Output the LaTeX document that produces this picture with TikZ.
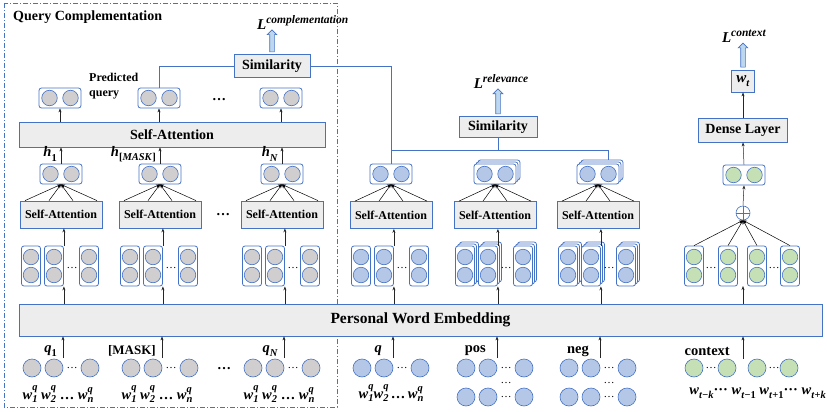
\documentclass[tikz,border=0pt]{standalone}
\usepackage{fontspec}
\setmainfont{Liberation Serif}
\usetikzlibrary{positioning, arrows.meta, calc, shapes.arrows}

\definecolor{frameblue}{RGB}{68,114,196}
\definecolor{boxgray}{RGB}{237,237,237}
\definecolor{cellgray}{RGB}{208,206,206}
\definecolor{cellblue}{RGB}{180,199,231}
\definecolor{cellgreen}{RGB}{197,224,180}
\definecolor{lossblue}{RGB}{189,215,238}

\newcommand{\fsz}[1]{\fontsize{#1}{#1}\selectfont}
% scripts in text
\newcommand{\supx}[1]{\raisebox{0.45em}{\fsz{11.5}\textit{#1}}}
\newcommand{\subx}[1]{\raisebox{-0.3em}{\fsz{10.5}#1}}
\newcommand{\wsub}[3]{\textit{#1}\raisebox{-3.5pt}{\fsz{10.5}\shortstack[l]{\textit{#3}\\\textit{#2}}}}

% vector of two cells, plain and stacked
\newcommand{\vecpair}[4]{%
  \node[vecbox] (#1) at (#2,#3) {};
  \node[cell, fill=#4] (#1-l) at ($(#1.center)+(-10.5,0)$) {};
  \node[cell, fill=#4] (#1-r) at ($(#1.center)+(10.5,0)$) {};
}
\newcommand{\vecstack}[4]{%
  \node[vecbox] (#1-s2) at ($(#2,#3)+(4,-4)$) {};
  \node[vecbox] (#1-s1) at ($(#2,#3)+(2,-2)$) {};
  \vecpair{#1}{#2}{#3}{#4}
}
% column of two cells, plain and stacked
\newcommand{\colpair}[4]{%
  \node[colbox] (#1) at (#2,#3) {};
  \node[cell, fill=#4] (#1-t) at ($(#1.center)+(0,-9)$) {};
  \node[cell, fill=#4] (#1-u) at ($(#1.center)+(0,9)$) {};
}
\newcommand{\colstack}[4]{%
  \node[colbox] (#1-s2) at ($(#2,#3)+(4,-4)$) {};
  \node[colbox] (#1-s1) at ($(#2,#3)+(2,-2)$) {};
  \colpair{#1}{#2}{#3}{#4}
}
\newcommand{\colgroup}[4]{%
  #4{#1-a}{#2-30}{266}{#3}
  #4{#1-b}{#2-7}{266}{#3}
  \node[dots] (#1-d) at (#2+11,268) {\ldots};
  #4{#1-c}{#2+28}{266}{#3}
}
\newcommand{\wordrow}[4]{%
  \node[word, fill=#4] (#1-a) at (#2-29,#3) {};
  \node[word, fill=#4] (#1-b) at (#2-7,#3) {};
  \node[dots] (#1-d) at (#2+11,#3) {\ldots};
  \node[word, fill=#4] (#1-c) at (#2+29,#3) {};
}
\newcommand{\fan}[2]{%
  \foreach \dx in {-36,-12,12,36}
    \draw[fanline] ($(#1.north)+(\dx,0)$) -- (#2.south);
}

\begin{document}
\begin{tikzpicture}[x=1pt, y=-1pt,
    >={Stealth[length=4pt, width=3pt]},
    vecbox/.style={draw=frameblue, fill=white, rounded corners=2.5pt, line width=0.8pt, minimum width=42pt, minimum height=20pt, inner sep=0pt},
    colbox/.style={draw=frameblue, fill=white, rounded corners=2.5pt, line width=0.8pt, minimum width=19pt, minimum height=40pt, inner sep=0pt},
    cell/.style={circle, draw=frameblue, line width=0.6pt, minimum size=15.5pt, inner sep=0pt},
    word/.style={circle, draw=frameblue, line width=0.6pt, minimum size=18pt, inner sep=0pt},
    layer/.style={draw=frameblue, fill=boxgray, line width=0.8pt, inner sep=0pt},
    dots/.style={inner sep=0pt, font=\fsz{11}},
    lbl/.style={inner sep=0pt, font=\fsz{14.5}\bfseries},
    arr/.style={->, black!85, line width=0.5pt},
    fanline/.style={->, line width=0.5pt},
    link/.style={draw=frameblue, line width=0.8pt},
    lossarrow/.style={single arrow, draw=frameblue, fill=lossblue, rotate=90, line width=0.6pt, inner sep=2pt, minimum width=9pt, single arrow head extend=2.5pt, single arrow head indent=0pt}
]
\useasboundingbox (0,0) rectangle (827,412);

% query complementation frame
\draw[frameblue, line width=0.8pt, dash pattern=on 5pt off 2pt on 1pt off 2pt] (4,3) rectangle (337,407);
\node[anchor=west, inner sep=0pt, font=\fsz{14}\bfseries] (qctitle) at (13,17) {Query Complementation};

\node[layer, minimum width=803pt, minimum height=32pt, font=\fsz{15.5}\bfseries] (pwe) at (420.5,320) {Personal Word Embedding};
\node[layer, minimum width=306pt, minimum height=25pt, font=\fsz{14}\bfseries] (bigsa) at (172,134.5) {Self-Attention};

% left: query complementation branch
\foreach \g/\cx/\inlab/\hlab in {1/61/{\textit{q}\subx{1}}/{\textit{h}\subx{1}}, 2/160/{\fsz{13}[MASK]}/{\textit{h}\subx{[\textit{MASK}]}}, 3/282/{\textit{q}\subx{\textit{N}}}/{\textit{h}\subx{\textit{N}}}} {
  \wordrow{w\g}{\cx}{368}{cellgray}
  \node[lbl] (wl\g) at (\cx-3,394) {\wsub{w}{1}{q} \wsub{w}{2}{q} … \wsub{w}{n}{q}};
  \coordinate (in\g) at (\cx+2,358);
  \node[lbl, anchor=east] (inl\g) at (\cx-4,351) {\inlab};
  \colgroup{c\g}{\cx}{cellgray}{\colpair}
  \node[layer, minimum width=82pt, minimum height=27pt, font=\fsz{12}\bfseries] (sa\g) at (\cx,214.5) {Self-Attention};
  \vecpair{o\g}{\cx}{174}{cellgray}
  \node[lbl, anchor=east] (hl\g) at (\cx-4,154) {\hlab};
  \vecpair{p\g}{\cx-1}{98}{cellgray}
  \draw[arr] (in\g) -- (in\g |- pwe.south);
  \draw[arr] (pwe.north -| c\g-b.south east) -- (c\g-b.south east);
  \draw[arr] (c\g-b.north east) -- (c\g-b.north east |- sa\g.south);
  \fan{sa\g}{o\g}
  \draw[arr] (o\g.north) -- (o\g.north |- bigsa.south);
  \draw[arr] (bigsa.north -| p\g.south) -- (p\g.south);
}
\node[dots, font=\fsz{14}\bfseries] (pdots) at (219,100) {\ldots};
\node[dots, font=\fsz{14}\bfseries] (sadots) at (223,215) {\ldots};
\node[dots, font=\fsz{14}\bfseries] (wdots) at (224,369) {\ldots};
\node[align=left, inner sep=0pt, anchor=west, font=\fontsize{12}{15}\selectfont\bfseries] (predlab) at (89,86) {Predicted\\query};

\node[layer, minimum width=76pt, minimum height=23pt, font=\fsz{14}\bfseries] (sim1) at (272,66) {Similarity};
\node[lbl, anchor=south west, font=\fsz{15}\bfseries] (lcomp) at (257,30) {\textit{L}\supx{complementation}};
\path (sim1.north) -- (sim1.north |- lcomp.south) node[lossarrow, midway, minimum height=22pt] (acomp) {};

% middle: relevance branch
\foreach \g/\cx/\inlab/\colm/\vecm in {4/391/{\textit{q}}/\colpair/\vecpair, 5/495/{pos}/\colstack/\vecstack, 6/598/{neg}/\colstack/\vecstack} {
  \wordrow{w\g}{\cx}{368}{cellblue}
  \coordinate (in\g) at (\cx+2,358);
  \node[lbl, anchor=east] (inl\g) at (\cx-9,351) {\inlab};
  \colgroup{c\g}{\cx}{cellblue}{\colm}
  \node[layer, minimum width=82pt, minimum height=27pt, font=\fsz{12}\bfseries] (sa\g) at (\cx,215) {Self-Attention};
  \vecm{o\g}{\cx}{174}{cellblue}
  \draw[arr] (in\g) -- (in\g |- pwe.south);
  \draw[arr] (pwe.north -| c\g-b.south east) -- (c\g-b.south east);
  \draw[arr] (c\g-b.north east) -- (c\g-b.north east |- sa\g.south);
  \fan{sa\g}{o\g}
}
\node[lbl] (wl4) at (391,393) {\wsub{w}{1}{q}\wsub{w}{2}{q}\,…\,\wsub{w}{n}{q}};
\wordrow{v5}{495}{397}{cellblue}
\wordrow{v6}{598}{397}{cellblue}
\node[dots] (vd5) at (506,383) {\ldots};
\node[dots] (vd6) at (609,383) {\ldots};

\node[layer, minimum width=78pt, minimum height=21pt, font=\fsz{14}\bfseries] (sim2) at (498,127) {Similarity};
\node[lbl, anchor=south, font=\fsz{15}\bfseries] (lrel) at (501,89) {\textit{L}\supx{relevance}};
\path (sim2.north) -- (sim2.north |- lrel.south) node[lossarrow, midway, minimum height=25pt] (arel) {};
\coordinate (relj) at (498,150);
\draw[link] (sim1.west) -| (p2.north);
\draw[link] (sim1.east) -| (o4.north);
\draw[link] (sim2.south) -- (relj);
\draw[link] (o4.north |- relj) -| ($(o6-s2.north)+(6,0)$);

% right: context branch
\node[word, fill=cellgreen] (x-a) at (694,368) {};
\node[dots] (x-d1) at (711,368) {\ldots};
\node[word, fill=cellgreen] (x-b) at (727,368) {};
\node[word, fill=cellgreen] (x-c) at (757,368) {};
\node[dots] (x-d2) at (774,368) {\ldots};
\node[word, fill=cellgreen] (x-d) at (789,368) {};
\node[lbl, anchor=east] (ctxlab) at (730,351) {context};
\node[lbl, anchor=east] (wlx) at (826,393) {\textit{w}\subx{\textit{t}−\textit{k}}··· \textit{w}\subx{\textit{t}−1} \textit{w}\subx{\textit{t}+1}··· \textit{w}\subx{\textit{t}+\textit{k}}};
\coordinate (ctxin) at (743,359);
\draw[arr] (ctxin) -- (ctxin |- pwe.south);

\colpair{k-a}{694}{266}{cellgreen}
\colpair{k-b}{728}{266}{cellgreen}
\colpair{k-c}{757}{266}{cellgreen}
\colpair{k-d}{790}{266}{cellgreen}
\node[dots] (k-d1) at (711,268) {\ldots};
\node[dots] (k-d2) at (774,268) {\ldots};
\coordinate (ctxup) at (743,286);
\draw[arr] (pwe.north -| ctxup) -- (ctxup);

\node[circle, draw=frameblue, fill=white, line width=0.6pt, minimum size=14pt, inner sep=0pt,
  path picture={\draw[frameblue, line width=0.6pt] (path picture bounding box.north) -- (path picture bounding box.south)
    (path picture bounding box.west) -- (path picture bounding box.east);}] (plus) at (743,213) {};
\foreach \c in {k-a, k-b, k-c, k-d}
  \draw[fanline] (\c.north) -- (plus.south);

\vecpair{ctxout}{744}{175}{cellgreen}
\node[layer, minimum width=89pt, minimum height=24pt, font=\fsz{14}\bfseries] (dense) at (743,130) {Dense Layer};
\node[layer, minimum width=23pt, minimum height=22pt, font=\fsz{15}\bfseries] (wt) at (743,81) {\textit{w}\subx{\textit{t}}};
\node[lbl, anchor=south, font=\fsz{15}\bfseries] (lctx) at (744,43) {\textit{L}\supx{context}};
\draw[arr] (plus.north) -- (ctxout.south);
\draw[arr] (ctxout.north) -- (dense.south);
\draw[arr] (dense.north) -- (wt.south);
\path (wt.north) -- (wt.north |- lctx.south) node[lossarrow, midway, minimum height=24pt] (actx) {};

\end{tikzpicture}
\end{document}
